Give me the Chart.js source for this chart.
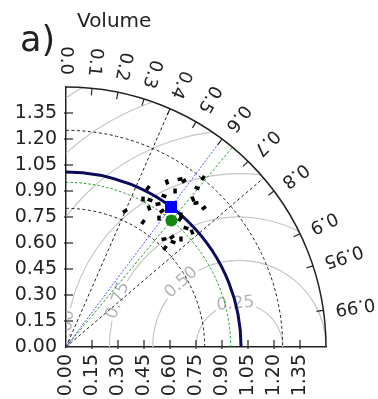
<!DOCTYPE html>
<html>
<head>
<meta charset="utf-8">
<script src="https://cdn.jsdelivr.net/npm/chart.js@4"></script>
<style>
  html, body { margin: 0; padding: 0; background: #fff; }
</style>
</head>
<body>
<canvas id="taylor" width="378" height="399"></canvas>
<script>
// std axis
const stdMax = 1.5;
const stdStep = 0.15;
// correlation labels on the outer arc
const corrTicks = [0.0, 0.1, 0.2, 0.3, 0.4, 0.5, 0.6, 0.7, 0.8, 0.9, 0.95, 0.99];
// centred RMS circles around the reference std
const rmsRef = 1.0;
const rmsLevels = [0.25, 0.5, 0.75, 1.0, 1.25, 1.5, 1.75];
const rmsLabelled = [0.25, 0.5, 0.75, 1.0];
// dashed bounds
const boundStd = [0.8, 1.25];
const boundCorr = [0.4, 0.76];
// blue square and green circle
const obsStd = 1.01, obsCorr = 0.60;
const meanStd = 0.95, meanCorr = 0.64;
// ensemble members
const memberStd = [0.855, 0.962, 1.032, 0.977, 0.934, 0.981, 0.960, 0.917, 0.847, 1.039,
  1.116, 1.171, 1.175, 1.098, 1.255, 1.189, 1.125, 1.119, 1.130, 1.010,
  0.989, 0.975, 0.984, 0.841, 0.881, 0.910, 0.808, 0.865];
const memberCorr = [0.398, 0.462, 0.458, 0.496, 0.513, 0.541, 0.577, 0.585, 0.525, 0.544,
  0.522, 0.562, 0.579, 0.573, 0.630, 0.636, 0.651, 0.670, 0.704, 0.657,
  0.665, 0.710, 0.739, 0.672, 0.694, 0.729, 0.707, 0.714];

const toXY = (s, c) => ({ x: s * c, y: s * Math.sqrt(1 - c * c) });
const FONT = '"DejaVu Sans", sans-serif';

const taylorPlugin = {
  id: 'taylor',
  beforeDatasetsDraw(chart) {
    const { ctx, scales: { x, y } } = chart;
    const ox = x.getPixelForValue(0), oy = y.getPixelForValue(0);
    const px = v => x.getPixelForValue(v) - ox;
    const R = px(stdMax);

    ctx.save();
    ctx.beginPath();
    ctx.moveTo(ox, oy);
    ctx.arc(ox, oy, R, -Math.PI / 2, 0);
    ctx.closePath();
    ctx.clip();

    // grey rms circles, with gaps for the labels
    const labelAngle = [95, 132, 159, 174];
    const cx = x.getPixelForValue(rmsRef);
    ctx.strokeStyle = '#c6c6c6';
    ctx.lineWidth = 1.2;
    rmsLevels.forEach(lv => {
      const r = px(lv);
      const li = rmsLabelled.indexOf(lv);
      if (li < 0) {
        ctx.beginPath(); ctx.arc(cx, oy, r, -Math.PI, 0); ctx.stroke();
        return;
      }
      const a = labelAngle[li] * Math.PI / 180;
      const gap = 21 / r;
      if (a + gap < Math.PI) {
        ctx.beginPath(); ctx.arc(cx, oy, r, -Math.PI, -(a + gap)); ctx.stroke();
      }
      ctx.beginPath(); ctx.arc(cx, oy, r, -(a - gap), 0); ctx.stroke();
    });
    ctx.fillStyle = '#b4b4b4';
    ctx.font = '17px ' + FONT;
    ctx.textAlign = 'center';
    ctx.textBaseline = 'middle';
    rmsLabelled.forEach((lv, i) => {
      const a = labelAngle[i] * Math.PI / 180;
      const r = px(lv);
      ctx.save();
      ctx.translate(cx + r * Math.cos(a), oy - r * Math.sin(a));
      ctx.rotate(Math.PI / 2 - a);
      ctx.fillText(lv.toFixed(2), 0, 0);
      ctx.restore();
    });

    // black dashed bounds
    ctx.strokeStyle = '#222';
    ctx.lineWidth = 1;
    ctx.setLineDash([3, 2.5]);
    boundStd.forEach(s => {
      ctx.beginPath(); ctx.arc(ox, oy, px(s), -Math.PI / 2, 0); ctx.stroke();
    });
    boundCorr.forEach(c => {
      const t = Math.acos(c);
      ctx.beginPath(); ctx.moveTo(ox, oy);
      ctx.lineTo(ox + R * Math.cos(t), oy - R * Math.sin(t)); ctx.stroke();
    });

    // green: ensemble mean std arc and correlation line
    ctx.strokeStyle = '#1f9a1f';
    ctx.setLineDash([2.5, 2]);
    ctx.beginPath(); ctx.arc(ox, oy, px(meanStd), -Math.PI / 2, 0); ctx.stroke();
    let t = Math.acos(meanCorr);
    ctx.beginPath(); ctx.moveTo(ox, oy);
    ctx.lineTo(ox + R * Math.cos(t), oy - R * Math.sin(t)); ctx.stroke();

    // blue correlation line
    ctx.strokeStyle = 'rgba(40,40,255,0.8)';
    ctx.setLineDash([2, 1.5]);
    t = Math.acos(obsCorr);
    ctx.beginPath(); ctx.moveTo(ox, oy);
    ctx.lineTo(ox + R * Math.cos(t), oy - R * Math.sin(t)); ctx.stroke();

    // navy std arc
    ctx.setLineDash([]);
    ctx.strokeStyle = '#0b0b5c';
    ctx.lineWidth = 3;
    ctx.beginPath(); ctx.arc(ox, oy, px(obsStd), -Math.PI / 2, 0); ctx.stroke();
    ctx.restore();

    // outer arc
    ctx.save();
    ctx.strokeStyle = '#222';
    ctx.lineWidth = 1.5;
    ctx.beginPath(); ctx.arc(ox, oy, R, -Math.PI / 2, 0); ctx.stroke();

    // inward ticks on the std axes
    ctx.lineWidth = 1.2;
    x.ticks.forEach(tk => {
      if (tk.value <= 0 || tk.value >= stdMax - 0.01) return;
      const p = x.getPixelForValue(tk.value);
      ctx.beginPath(); ctx.moveTo(p, oy + 2); ctx.lineTo(p, oy - 7); ctx.stroke();
    });
    y.ticks.forEach(tk => {
      if (tk.value <= 0 || tk.value >= stdMax - 0.01) return;
      const p = y.getPixelForValue(tk.value);
      ctx.beginPath(); ctx.moveTo(ox - 2, p); ctx.lineTo(ox + 7, p); ctx.stroke();
    });

    // correlation ticks and labels
    ctx.fillStyle = '#222';
    ctx.font = '18px ' + FONT;
    ctx.textAlign = 'right';
    ctx.textBaseline = 'middle';
    corrTicks.forEach(c => {
      const th = Math.acos(c);
      const cs = Math.cos(th), sn = Math.sin(th);
      if (c > 0) {
        ctx.beginPath();
        ctx.moveTo(ox + R * cs, oy - R * sn);
        ctx.lineTo(ox + (R - 7) * cs, oy - (R - 7) * sn);
        ctx.stroke();
      }
      const s = String(c);
      ctx.save();
      ctx.translate(ox + (R + 12) * cs, oy - (R + 12) * sn);
      ctx.rotate(Math.PI - th);
      ctx.fillText(s.includes('.') ? s : c.toFixed(1), 0, 0);
      ctx.restore();
    });

    // panel letter and title
    ctx.textAlign = 'left';
    ctx.textBaseline = 'alphabetic';
    ctx.font = '35px ' + FONT;
    ctx.fillText('a)', 20, 51);
    ctx.font = '20px ' + FONT;
    ctx.fillText('Volume', 77, 27);
    ctx.restore();
  }
};

const rotations = [-35, 90, -55, 20, 70, -10];

new Chart(document.getElementById('taylor'), {
  type: 'scatter',
  data: {
    datasets: [
      {
        data: memberStd.map((s, i) => toXY(s, memberCorr[i])),
        pointStyle: 'line',
        pointRadius: 2.5,
        borderWidth: 3.5,
        borderColor: '#000',
        rotation: ctx => rotations[ctx.dataIndex % rotations.length]
      },
      {
        data: [toXY(meanStd, meanCorr)],
        pointStyle: 'circle',
        pointRadius: 6,
        backgroundColor: '#118811',
        borderColor: '#118811',
        borderWidth: 0
      },
      {
        data: [toXY(obsStd, obsCorr)],
        pointStyle: 'rect',
        pointRadius: 8.5,
        backgroundColor: '#0000ff',
        borderColor: '#0000ff',
        borderWidth: 0
      }
    ]
  },
  options: {
    responsive: false,
    animation: false,
    layout: { padding: { top: 87, right: 52, left: 0, bottom: 0 } },
    plugins: { legend: { display: false }, tooltip: { enabled: false } },
    scales: {
      x: {
        type: 'linear', min: 0, max: stdMax,
        afterFit: s => { s.height = 52; },
        grid: { display: false, drawTicks: false },
        border: { display: true, color: '#222', width: 1.5 },
        ticks: {
          stepSize: stdStep, autoSkip: false, minRotation: 90, maxRotation: 90,
          padding: 7, color: '#222', font: { family: FONT, size: 19 },
          callback: v => v > stdMax - 0.01 ? '' : v.toFixed(2)
        }
      },
      y: {
        type: 'linear', min: 0, max: stdMax,
        afterFit: s => { s.width = 66; },
        grid: { display: false, drawTicks: false },
        border: { display: true, color: '#222', width: 1.5 },
        ticks: {
          stepSize: stdStep, autoSkip: false, padding: 9,
          color: '#222', font: { family: FONT, size: 19 },
          callback: v => v > stdMax - 0.01 ? '' : v.toFixed(2)
        }
      }
    }
  },
  plugins: [taylorPlugin]
});
</script>
</body>
</html>
